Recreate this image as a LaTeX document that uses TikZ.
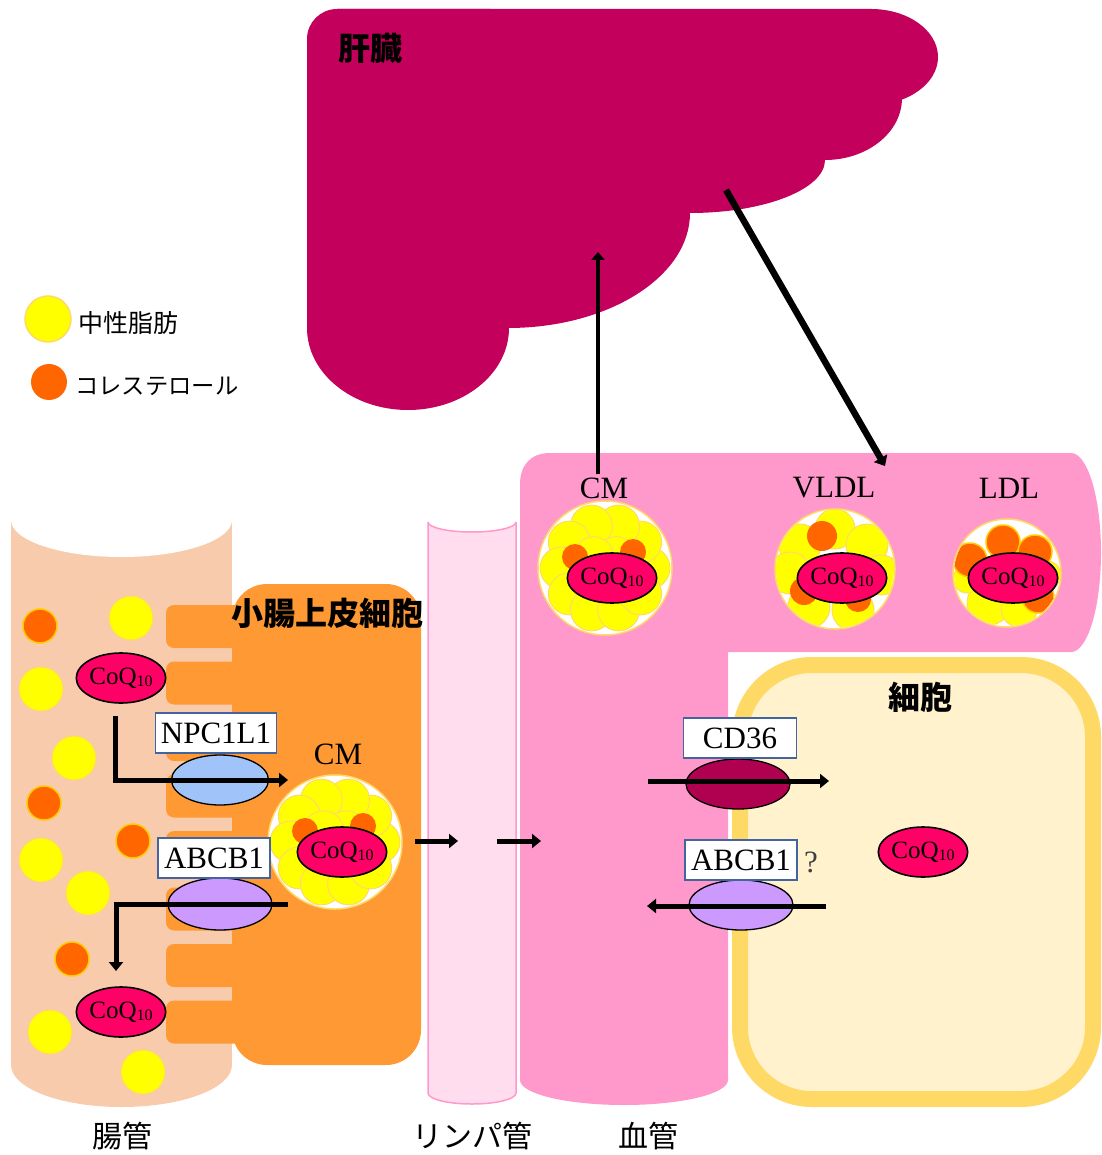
\documentclass[tikz,border=0pt]{standalone}
\usepackage{fontspec}
\setmainfont{Liberation Serif}
\newfontfamily\jp{Noto Sans CJK JP}
\usetikzlibrary{shapes.geometric,arrows.meta}

\definecolor{liver}{RGB}{195,0,91}
\definecolor{peach}{RGB}{248,203,173}
\definecolor{epi}{RGB}{255,153,51}
\definecolor{bloodpink}{RGB}{255,153,204}
\definecolor{lymphpink}{RGB}{255,221,238}
\definecolor{cellfill}{RGB}{255,242,204}
\definecolor{cellline}{RGB}{255,217,102}
\definecolor{coqred}{RGB}{255,0,102}
\definecolor{fatyellow}{RGB}{255,255,0}
\definecolor{fatrim}{RGB}{255,217,102}
\definecolor{cholorange}{RGB}{255,102,0}
\definecolor{cholrim}{RGB}{255,204,0}
\definecolor{npcblue}{RGB}{160,196,250}
\definecolor{abcpurple}{RGB}{204,153,255}
\definecolor{cdred}{RGB}{176,0,80}
\definecolor{tagline}{RGB}{68,100,160}

\newcommand{\coqlabel}{CoQ\raisebox{-2pt}{\fontsize{16}{16}\selectfont 10}}

\tikzset{
  every node/.style={inner sep=0pt},
  coq/.style={ellipse, draw=black, line width=1.6pt, fill=coqred,
    minimum width=82pt, minimum height=50pt, font=\fontsize{25}{25}\selectfont},
  carrier/.style={ellipse, draw=black, line width=1.3pt,
    minimum width=102pt, minimum height=50pt},
  tag/.style={rectangle, draw=tagline, line width=1.3pt, fill=white,
    minimum height=40pt, font=\fontsize{31}{31}\selectfont},
  flow/.style={line width=5pt, -{Triangle[length=9pt,width=14pt]}},
  fatball/.style={fill=fatyellow, draw=fatrim, line width=1pt},
  cholball/.style={fill=cholorange, draw=cholrim, line width=1.5pt},
  jplabel/.style={font=\jp\fontsize{30}{30}\selectfont},
  jpbold/.style={font=\jp\bfseries\fontsize{32}{32}\selectfont},
  lplabel/.style={font=\fontsize{31}{31}\selectfont},
  % chylomicron
  cm particle/.pic={
    \fill[white] (0,0) circle[radius=67pt];
    \begin{scope}
      \clip (0,0) circle[radius=66pt];
      \foreach \a in {0,36,...,324} \filldraw[fatball] (\a:44pt) circle[radius=21pt];
      \foreach \a in {45,135,225,315} \filldraw[fatball] (\a:16pt) circle[radius=20pt];
      \fill[cholorange] (-30,-11) circle[radius=13pt];
      \fill[cholorange] (28,-16) circle[radius=13pt];
    \end{scope}
    \draw[fatrim, line width=1.5pt] (0,0) circle[radius=67pt];
    \node[coq] (-coq) at (7,10) {\coqlabel};
  },
  % very low density lipoprotein
  vldl particle/.pic={
    \fill[white] (0,0) circle[radius=60pt];
    \begin{scope}
      \clip (0,0) circle[radius=59pt];
      \foreach \p/\r in {{(-35,-24)}/21,{(0,-40)}/20,{(32,-24)}/21,{(-45,4)}/21,
          {(46,6)}/20,{(-26,38)}/21,{(18,41)}/21,{(0,5)}/20}
        \filldraw[fatball] \p circle[radius=\r pt];
      \fill[cholorange] (-13,-33) circle[radius=15pt];
      \fill[cholorange] (-31,22) circle[radius=14pt];
      \fill[cholorange] (23,30) circle[radius=13pt];
    \end{scope}
    \draw[fatrim, line width=1.5pt] (0,0) circle[radius=60pt];
    \node[coq] (-coq) at (7,9) {\coqlabel};
  },
  % low density lipoprotein
  ldl particle/.pic={
    \fill[white] (0,0) circle[radius=54pt];
    \begin{scope}
      \clip (0,0) circle[radius=53pt];
      \filldraw[fatball] (-18,30) circle[radius=22pt];
      \filldraw[fatball] (12,36) circle[radius=18pt];
      \filldraw[fatball] (-40,6) circle[radius=14pt];
      \filldraw[fatball] (40,2) circle[radius=14pt];
      \filldraw[cholball] (-37,-13) circle[radius=17pt];
      \filldraw[cholball] (-4,-31) circle[radius=17pt];
      \filldraw[cholball] (28,-21) circle[radius=17pt];
      \filldraw[cholball] (31,24) circle[radius=16pt];
    \end{scope}
    \draw[fatrim, line width=1.5pt] (0,0) circle[radius=54pt];
    \node[coq] (-coq) at (6,5) {\coqlabel};
  },
}

\begin{document}
\begin{tikzpicture}[x=1pt,y=-1pt]
\useasboundingbox (0,0) rectangle (1101,1155);

% ---------- liver ----------
\fill[liver] (307,328) -- (307,39) -- (337,9) -- (871,9) -- (871,57) -- (825,98)
  -- (690,160) -- (508,213) -- (408,328) -- cycle;
\fill[liver, rounded corners=30pt] (307,9) rectangle (520,200);
\fill[liver] (408,328) ellipse[x radius=101pt, y radius=82pt];
\fill[liver] (508,213) ellipse[x radius=182pt, y radius=115pt];
\fill[liver] (690,160) ellipse[x radius=135pt, y radius=53pt];
\fill[liver] (825,98) ellipse[x radius=77pt, y radius=62pt];
\fill[liver] (871,57) ellipse[x radius=67pt, y radius=48pt];
\node[jpbold] (liverName) at (370,48) {肝臓};

% ---------- legend ----------
\filldraw[fatball, line width=1.5pt] (48,319) circle[radius=23pt];
\node[font=\jp\fontsize{25}{25}\selectfont, anchor=west] (legFat) at (78,323) {中性脂肪};
\fill[cholorange] (49,382) circle[radius=18pt];
\node[font=\jp\fontsize{23.3}{23.3}\selectfont, anchor=west] (legChol) at (75,386) {コレステロール};

% ---------- intestinal lumen ----------
\fill[peach] (11,520) rectangle (232,1065);
\fill[peach] (121.5,1065) ellipse[x radius=110.5pt, y radius=42pt];
\fill[white] (121.5,520) ellipse[x radius=110.5pt, y radius=37pt];

% ---------- epithelial cell with microvilli ----------
\fill[epi, rounded corners=35pt] (232,584) rectangle (421,1065);
\foreach \t in {605,661.5,718,774.5,831,887.5,944,1000.5}
  \fill[epi, rounded corners=8pt] (166,\t) rectangle (245,\t+43);
\node[jpbold] (epiName) at (327,613) {小腸上皮細胞};

% ---------- lymph vessel ----------
\fill[lymphpink] (428,522) rectangle (516,1093);
\fill[lymphpink] (472,1093) ellipse[x radius=44pt, y radius=11pt];
\draw[bloodpink, line width=1.5pt] (428,522) -- (428,1093)
  arc[start angle=180, end angle=360, x radius=44pt, y radius=11pt] -- (516,522);
\fill[white] (472,522) ellipse[x radius=44pt, y radius=10pt];
\draw[bloodpink, line width=1.5pt] (428,522)
  arc[start angle=180, end angle=360, x radius=44pt, y radius=10pt];

% ---------- blood vessel ----------
\fill[bloodpink] (520,1080) -- (520,484) .. controls (520,466) and (530,453) .. (550,453)
  -- (1071,453) -- (1071,652) -- (728,652) -- (728,1080) -- cycle;
\fill[bloodpink] (1071,552.5) ellipse[x radius=30pt, y radius=99.5pt];
\fill[bloodpink] (624,1080) ellipse[x radius=104pt, y radius=25pt];

% ---------- peripheral cell ----------
\filldraw[fill=cellfill, draw=cellline, line width=16pt, rounded corners=72pt]
  (740,665) rectangle (1093,1099);
\node[jpbold] (cellName) at (920,697) {細胞};

% ---------- lumen contents ----------
\foreach \p in {(40,626),(44,803),(133,841),(72,959)}
  \filldraw[cholball] \p circle[radius=17pt];
\foreach \p in {(131,618),(41,689),(74,758),(41,860),(88,893),(50,1032),(143,1072)}
  \filldraw[fatball] \p circle[radius=22pt];
\node[coq] (coqGutA) at (121,678) {\coqlabel};
\node[coq] (coqGutB) at (121,1012) {\coqlabel};

% ---------- lipoproteins ----------
\node[lplabel] (cmGutName) at (338,754) {CM};
\pic (cmGut) at (335,842) {cm particle};
\node[lplabel] (cmBloodName) at (604,488) {CM};
\pic (cmBlood) at (605,568) {cm particle};
\node[lplabel] (vldlName) at (834,488) {VLDL};
\pic (vldl) at (835,569) {vldl particle};
\node[lplabel] (ldlName) at (1009,488) {LDL};
\pic (ldl) at (1007,573) {ldl particle};

\node[coq] (coqCell) at (923,852) {\coqlabel};

% ---------- transporters ----------
\node[carrier, fill=npcblue, minimum width=97pt] (npc) at (220,780) {};
\node[carrier, fill=abcpurple, minimum width=104pt, minimum height=52pt] (abcGut) at (220,904) {};
\node[carrier, fill=cdred, minimum width=104pt] (cd36) at (738,784) {};
\node[carrier, fill=abcpurple, minimum width=104pt] (abcCell) at (741,905) {};

% ---------- transport routes ----------
\coordinate (npcFrom) at (115,716);
\coordinate (npcTo) at (288,780);
\draw[flow] (npcFrom) |- (npcTo);
\coordinate (abcGutFrom) at (288,904);
\coordinate (abcGutTo) at (116,971);
\draw[flow] (abcGutFrom) -| (abcGutTo);

\coordinate (lymA) at (415,841);
\coordinate (lymB) at (458,841);
\coordinate (lymC) at (497,841);
\coordinate (lymD) at (541,841);
\draw[flow] (lymA) -- (lymB);
\draw[flow] (lymC) -- (lymD);

\coordinate (cdFrom) at (648,781);
\coordinate (cdTo) at (829,781);
\draw[flow] (cdFrom) -- (cdTo);
\coordinate (abcCellFrom) at (826,906);
\coordinate (abcCellTo) at (647,906);
\draw[flow] (abcCellFrom) -- (abcCellTo);

\coordinate (toLiver) at (598,252);
\draw[line width=4.5pt, -{Triangle[length=8pt,width=13pt]}] (cmBloodName.north -| toLiver) ++(0,-3) -- (toLiver);
\coordinate (liverOut) at (726,190);
\coordinate (vldlIn) at (885,466);
\draw[line width=6.5pt, -{Triangle[length=9pt,width=15pt]}] (liverOut) -- (vldlIn);

% ---------- labels on transporters ----------
\node[tag, minimum width=121pt] (npcTag) at (216,733) {NPC1L1};
\node[tag, minimum width=112pt] (abcGutTag) at (214,858) {ABCB1};
\node[tag, minimum width=113pt] (cdTag) at (740,738) {CD36};
\node[tag, minimum width=112pt] (abcCellTag) at (741,860) {ABCB1};
\node[font=\fontsize{31}{31}\selectfont, text=black!75] (unsure) at (811,862) {?};

% ---------- vessel names ----------
\node[jplabel] (gutName) at (122,1136) {腸管};
\node[jplabel] (lymphName) at (472,1136) {リンパ管};
\node[jplabel] (bloodName) at (648,1136) {血管};
\end{tikzpicture}
\end{document}
